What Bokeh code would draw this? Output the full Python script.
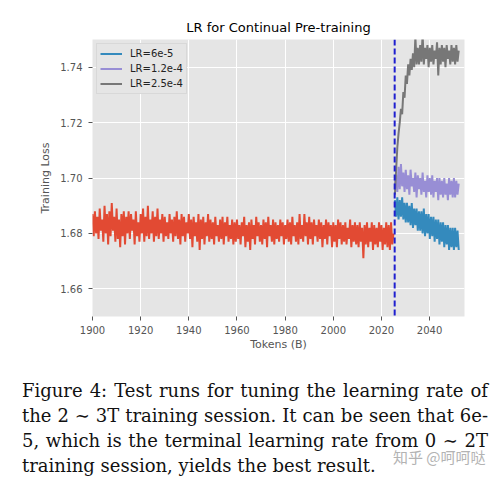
import numpy as np
from bokeh.plotting import figure
from bokeh.layouts import column
from bokeh.models import Span, FixedTicker, PrintfTickFormatter, Range1d, Div
from bokeh.embed import file_html
from bokeh.resources import INLINE

title = "LR for Continual Pre-training"
x_label = "Tokens (B)"
y_label = "Training Loss"
x_ticks = [1900, 1920, 1940, 1960, 1980, 2000, 2020, 2040]
y_ticks = [1.66, 1.68, 1.70, 1.72, 1.74]
switch_point = 2025.5

red_start, red_step = 1900.0, 0.5
red_loss = [
    1.687, 1.679, 1.688, 1.680, 1.686, 1.678, 1.689, 1.681, 1.685, 1.677,
    1.690, 1.680, 1.687, 1.676, 1.688, 1.679, 1.691, 1.681, 1.686, 1.677,
    1.689, 1.678, 1.685, 1.675, 1.687, 1.679, 1.688, 1.676, 1.686, 1.680,
    1.688, 1.678, 1.687, 1.681, 1.685, 1.676, 1.688, 1.679, 1.684, 1.677,
    1.687, 1.680, 1.689, 1.677, 1.686, 1.679, 1.690, 1.678, 1.685, 1.680,
    1.688, 1.677, 1.686, 1.679, 1.689, 1.678, 1.685, 1.680, 1.687, 1.677,
    1.686, 1.679, 1.684, 1.678, 1.687, 1.680, 1.685, 1.677, 1.686, 1.679,
    1.688, 1.678, 1.685, 1.676, 1.687, 1.679, 1.686, 1.677, 1.684, 1.680,
    1.687, 1.678, 1.685, 1.675, 1.686, 1.679, 1.684, 1.677, 1.687, 1.674,
    1.685, 1.678, 1.686, 1.676, 1.684, 1.679, 1.687, 1.677, 1.685, 1.678,
    1.684, 1.676, 1.686, 1.679, 1.683, 1.677, 1.685, 1.678, 1.686, 1.676,
    1.684, 1.679, 1.686, 1.677, 1.683, 1.678, 1.685, 1.676, 1.684, 1.677,
    1.685, 1.678, 1.683, 1.676, 1.684, 1.679, 1.686, 1.675, 1.683, 1.677,
    1.684, 1.674, 1.685, 1.678, 1.683, 1.676, 1.686, 1.679, 1.684, 1.677,
    1.683, 1.676, 1.685, 1.678, 1.684, 1.675, 1.686, 1.679, 1.683, 1.677,
    1.685, 1.676, 1.684, 1.678, 1.683, 1.677, 1.685, 1.679, 1.684, 1.676,
    1.683, 1.678, 1.685, 1.677, 1.684, 1.676, 1.686, 1.679, 1.683, 1.677,
    1.684, 1.676, 1.687, 1.678, 1.683, 1.677, 1.687, 1.679, 1.684, 1.676,
    1.686, 1.678, 1.684, 1.676, 1.685, 1.679, 1.683, 1.677, 1.685, 1.678,
    1.684, 1.675, 1.683, 1.678, 1.685, 1.676, 1.684, 1.679, 1.683, 1.675,
    1.684, 1.677, 1.683, 1.675, 1.685, 1.678, 1.684, 1.676, 1.683, 1.677,
    1.684, 1.676, 1.682, 1.678, 1.685, 1.675, 1.683, 1.677, 1.684, 1.676,
    1.683, 1.675, 1.684, 1.677, 1.682, 1.671, 1.683, 1.676, 1.684, 1.675,
    1.682, 1.677, 1.684, 1.674, 1.683, 1.676, 1.682, 1.675, 1.684, 1.677,
    1.683, 1.674, 1.682, 1.676, 1.684, 1.675, 1.683, 1.674, 1.684, 1.676,
    1.680,
]

lr_start, lr_step = 2025.6, 0.5
lr_labels = ["LR=6e-5", "LR=1.2e-4", "LR=2.5e-4"]
loss_6e5 = [
    1.692, 1.686, 1.693, 1.685, 1.692, 1.686, 1.693, 1.685, 1.691, 1.684,
    1.691, 1.684, 1.690, 1.683, 1.691, 1.682, 1.689, 1.683, 1.689, 1.681,
    1.688, 1.681, 1.688, 1.680, 1.689, 1.679, 1.687, 1.680, 1.687, 1.678,
    1.686, 1.679, 1.686, 1.677, 1.685, 1.678, 1.685, 1.676, 1.684, 1.677,
    1.684, 1.675, 1.683, 1.676, 1.683, 1.674, 1.682, 1.675, 1.682, 1.674,
    1.682, 1.675, 1.681, 1.674,
]
loss_1p2e4 = [
    1.697, 1.701, 1.695, 1.704, 1.696, 1.705, 1.697, 1.702, 1.695, 1.703,
    1.696, 1.701, 1.694, 1.703, 1.697, 1.700, 1.695, 1.702, 1.693, 1.701,
    1.696, 1.700, 1.694, 1.702, 1.695, 1.699, 1.693, 1.701, 1.695, 1.700,
    1.694, 1.701, 1.693, 1.699, 1.695, 1.700, 1.692, 1.700, 1.694, 1.699,
    1.693, 1.700, 1.694, 1.698, 1.692, 1.700, 1.694, 1.699, 1.693, 1.700,
    1.693, 1.699, 1.694, 1.698,
]
loss_2p5e4 = [
    1.694, 1.703, 1.711, 1.716, 1.720, 1.725, 1.723, 1.731, 1.729, 1.737,
    1.734, 1.741, 1.737, 1.743, 1.739, 1.745, 1.740, 1.751, 1.741, 1.747,
    1.741, 1.748, 1.742, 1.752, 1.741, 1.747, 1.743, 1.748, 1.740, 1.747,
    1.742, 1.748, 1.741, 1.746, 1.743, 1.749, 1.737, 1.747, 1.741, 1.748,
    1.742, 1.747, 1.740, 1.748, 1.743, 1.746, 1.741, 1.748, 1.742, 1.747,
    1.741, 1.748, 1.742, 1.746,
]
lr_colors = ["#348ABD", "#988ED5", "#777777"]
red_color = "#E24A33"

caption_lines = [
    "Figure 4: Test runs for tuning the learning rate of",
    "the 2 \u223c 3T training session. It can be seen that 6e-",
    "5, which is the terminal learning rate from 0 \u223c 2T",
    "training session, yields the best result.",
]
watermark = "知乎 @呵呵哒"

W = 503
H_PLOT = 355
H_CAP = 479 - H_PLOT

p = figure(width=W, height=H_PLOT, output_backend="svg", toolbar_location=None,
           x_range=Range1d(1900, 2054.5), y_range=Range1d(1.65, 1.75),
           min_border_left=92, min_border_right=39, min_border_top=39,
           min_border_bottom=39, title=title)
p.background_fill_color = "#E5E5E5"
p.border_fill_color = "white"
p.outline_line_color = None

p.title.text_font = "DejaVu Sans"
p.title.text_font_size = "13px"
p.title.text_font_style = "normal"
p.title.text_color = "#000000"
p.title.align = "center"
p.title.standoff = 10

for ax in (p.xaxis[0], p.yaxis[0]):
    ax.axis_line_color = None
    ax.major_tick_line_color = "#555555"
    ax.major_tick_in = 0
    ax.major_tick_out = 4
    ax.minor_tick_line_color = None
    ax.major_label_text_color = "#555555"
    ax.major_label_text_font = "DejaVu Sans"
    ax.major_label_text_font_size = "10px"
    ax.axis_label_text_color = "#555555"
    ax.axis_label_text_font = "DejaVu Sans"
    ax.axis_label_text_font_size = "11px"
    ax.axis_label_text_font_style = "normal"

p.xaxis.ticker = FixedTicker(ticks=x_ticks)
p.yaxis.ticker = FixedTicker(ticks=y_ticks)
p.yaxis.formatter = PrintfTickFormatter(format="%.2f")
p.xaxis.axis_label = x_label
p.yaxis.axis_label = y_label
p.xaxis.major_label_standoff = 5
p.xaxis.axis_label_standoff = 1
p.yaxis.major_label_standoff = 6
p.yaxis.axis_label_standoff = 5

p.grid.grid_line_color = "white"
p.grid.grid_line_width = 1

red_x = red_start + red_step * np.arange(len(red_loss))
p.line(red_x, red_loss, line_color=red_color, line_width=2)

for vals, col, lab in zip([loss_6e5, loss_1p2e4, loss_2p5e4], lr_colors, lr_labels):
    xs = lr_start + lr_step * np.arange(len(vals))
    p.line(xs, vals, line_color=col, line_width=2, legend_label=lab)

p.add_layout(Span(location=switch_point, dimension="height", line_color="#1f1fcf",
                  line_width=2, line_dash="6 3"))

lg = p.legend[0]
lg.location = "top_left"
lg.margin = 4
lg.padding = 3
lg.spacing = 2
lg.label_height = 13
lg.glyph_height = 13
lg.glyph_width = 22
lg.label_standoff = 8
lg.label_text_font = "DejaVu Sans"
lg.label_text_font_size = "10px"
lg.label_text_color = "#222222"
lg.background_fill_color = "#E5E5E5"
lg.background_fill_alpha = 1.0
lg.border_line_color = "#CCCCCC"
lg.border_line_width = 1

# caption below the chart, justified like the LaTeX original
line_style = ("white-space:nowrap;text-align:justify;text-align-last:justify;"
              "height:25px;")
last_style = "white-space:nowrap;text-align:left;height:25px;"
rows = []
for i, line in enumerate(caption_lines):
    st = last_style if i == len(caption_lines) - 1 else line_style
    rows.append(f'<div style="{st}">{line}</div>')
html = (
    f'<div style="position:relative;width:{W}px;height:{H_CAP}px;'
    'overflow:hidden;background:white;">'
    '<div style="position:absolute;left:22px;top:23px;width:466px;'
    "font-family:'DejaVu Serif';font-size:18px;line-height:25px;color:#111111;\">"
    + "".join(rows) +
    '</div>'
    '<div style="position:absolute;left:393px;top:94px;'
    "font-family:'Noto Sans CJK SC';font-size:15px;line-height:16px;"
    'color:#9a9a9a;opacity:0.75;white-space:nowrap;">' + watermark + '</div>'
    '</div>'
)
cap = Div(text=html, width=W, height=H_CAP, margin=(0, 0, 0, 0))

layout = column(p, cap, spacing=0)
open("out.html", "w").write(file_html(layout, INLINE))
